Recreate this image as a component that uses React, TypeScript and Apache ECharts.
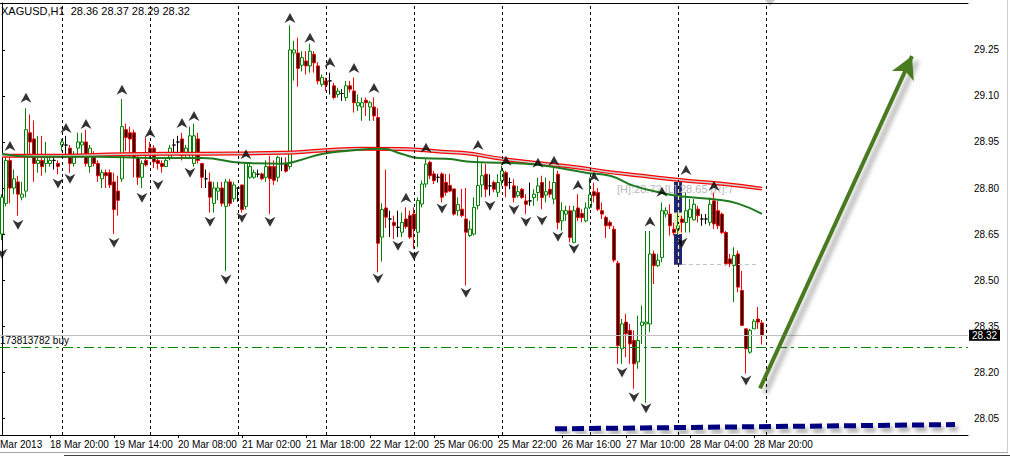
import React, { useEffect, useRef } from 'react';
import * as echarts from 'echarts';

// ---- Candle data (XAGUSD H1), index 0 = first visible bar ----
const opens = [
  28.65, 28.75, 28.89, 28.80, 28.82, 28.77, 28.79, 28.98, 28.96, 28.88,
  28.89, 28.88, 28.88, 28.89, 28.88, 28.94, 28.94, 28.93, 28.88, 28.93,
  28.94, 28.95, 28.87, 28.91, 28.88, 28.83, 28.85, 28.85, 28.82, 28.79,
  28.83, 28.99, 28.98, 28.98, 28.90, 28.835, 28.89, 28.93, 28.93, 28.89,
  28.88, 28.87, 28.90, 28.94, 28.95, 28.96, 28.91, 28.91, 28.88, 28.96,
  28.88, 28.83, 28.82, 28.75, 28.79, 28.80, 28.74, 28.82, 28.765, 28.80,
  28.81, 28.74, 28.835, 28.835, 28.845, 28.846, 28.835, 28.87, 28.87, 28.835,
  28.88, 28.88, 28.87, 29.24, 29.24, 29.20, 29.214, 29.198, 29.236, 29.198,
  29.138, 29.149, 29.149, 29.133, 29.105, 29.108, 29.095, 29.133, 29.116, 29.068,
  29.064, 29.086, 29.064, 29.064, 29.03, 28.64, 28.735, 28.699, 28.688, 28.672,
  28.656, 28.699, 28.71, 28.715, 28.656, 28.748, 28.813, 28.884, 28.846, 28.835,
  28.846, 28.818, 28.808, 28.797, 28.726, 28.731, 28.699, 28.645, 28.65, 28.743,
  28.81, 28.845, 28.807, 28.818, 28.786, 28.823, 28.85, 28.818, 28.807, 28.775,
  28.796, 28.758, 28.758, 28.769, 28.785, 28.818, 28.777, 28.796, 28.764, 28.845,
  28.693, 28.715, 28.726, 28.623, 28.735, 28.717, 28.693, 28.737, 28.788, 28.785,
  28.726, 28.704, 28.688, 28.666, 28.555, 28.276, 28.363, 28.336, 28.303, 28.233,
  28.352, 28.357, 28.357, 28.585, 28.547, 28.574, 28.715, 28.715, 28.666, 28.666,
  28.699, 28.688, 28.704, 28.696, 28.731, 28.699, 28.699, 28.688, 28.758, 28.726,
  28.715, 28.655, 28.569, 28.547, 28.585, 28.466, 28.341, 28.265, 28.341, 28.373,
  28.36,
];
const highs = [
  28.78, 28.91, 28.90, 28.86, 28.84, 28.82, 29.06, 29.04, 29.02, 28.97,
  28.97, 28.95, 28.91, 28.91, 28.89, 28.96, 28.97, 28.94, 28.92, 28.98,
  28.98, 28.99, 28.94, 28.92, 28.89, 28.86, 28.86, 28.86, 28.85, 28.84,
  29.09, 29.01, 29.00, 28.99, 28.91, 28.89, 28.965, 28.95, 28.94, 28.90,
  28.89, 28.90, 28.94, 28.96, 28.97, 28.98, 28.94, 29.00, 29.01, 28.98,
  28.88, 28.86, 28.85, 28.82, 28.82, 28.82, 28.83, 28.83, 28.82, 28.80,
  28.81, 28.885, 28.88, 28.86, 28.86, 28.85, 28.89, 28.905, 28.89, 28.905,
  28.90, 28.90, 29.33, 29.28, 29.29, 29.246, 29.246, 29.27, 29.246, 29.21,
  29.17, 29.16, 29.176, 29.143, 29.127, 29.122, 29.149, 29.149, 29.16, 29.105,
  29.095, 29.095, 29.084, 29.095, 29.06, 28.75, 28.86, 28.726, 28.71, 28.726,
  28.72, 28.737, 28.726, 28.737, 28.77, 28.824, 28.894, 28.889, 28.856, 28.846,
  28.851, 28.846, 28.846, 28.797, 28.77, 28.797, 28.80, 28.694, 28.77, 28.91,
  28.88, 28.878, 28.845, 28.824, 28.845, 28.872, 28.856, 28.834, 28.829, 28.807,
  28.80, 28.78, 28.818, 28.796, 28.834, 28.84, 28.834, 28.823, 28.865, 28.856,
  28.753, 28.742, 28.742, 28.742, 28.78, 28.731, 28.753, 28.834, 28.818, 28.80,
  28.753, 28.71, 28.694, 28.677, 28.563, 28.373, 28.39, 28.357, 28.336, 28.384,
  28.417, 28.66, 28.66, 28.596, 28.585, 28.753, 28.737, 28.747, 28.688, 28.72,
  28.71, 28.785, 28.764, 28.764, 28.742, 28.715, 28.715, 28.769, 28.785, 28.758,
  28.72, 28.66, 28.585, 28.607, 28.596, 28.53, 28.341, 28.341, 28.373, 28.412,
  28.37,
];
const lows = [
  28.63, 28.74, 28.75, 28.78, 28.71, 28.76, 28.77, 28.90, 28.82, 28.85,
  28.84, 28.85, 28.87, 28.86, 28.845, 28.92, 28.91, 28.85, 28.87, 28.90,
  28.91, 28.87, 28.85, 28.87, 28.82, 28.80, 28.80, 28.80, 28.65, 28.71,
  28.82, 28.92, 28.90, 28.835, 28.81, 28.80, 28.87, 28.90, 28.865, 28.86,
  28.85, 28.87, 28.89, 28.91, 28.91, 28.89, 28.90, 28.90, 28.87, 28.88,
  28.80, 28.80, 28.72, 28.72, 28.76, 28.74, 28.53, 28.74, 28.755, 28.755,
  28.72, 28.73, 28.83, 28.83, 28.835, 28.825, 28.82, 28.715, 28.81, 28.82,
  28.855, 28.85, 28.86, 29.15, 29.13, 29.18, 29.17, 29.176, 29.176, 29.138,
  29.13, 29.116, 29.105, 29.089, 29.095, 29.084, 29.084, 29.111, 29.046, 29.051,
  29.019, 29.035, 29.019, 29.019, 28.525, 28.56, 28.67, 28.64, 28.634, 28.64,
  28.64, 28.667, 28.634, 28.602, 28.607, 28.737, 28.802, 28.829, 28.813, 28.818,
  28.753, 28.775, 28.786, 28.71, 28.71, 28.705, 28.482, 28.64, 28.645, 28.73,
  28.77, 28.77, 28.775, 28.786, 28.77, 28.807, 28.77, 28.796, 28.753, 28.769,
  28.764, 28.715, 28.742, 28.742, 28.758, 28.731, 28.753, 28.769, 28.747, 28.666,
  28.661, 28.693, 28.623, 28.62, 28.693, 28.688, 28.688, 28.731, 28.753, 28.725,
  28.699, 28.637, 28.666, 28.558, 28.227, 28.227, 28.249, 28.227, 28.146, 28.211,
  28.292, 28.10, 28.33, 28.487, 28.542, 28.558, 28.704, 28.645, 28.645, 28.65,
  28.655, 28.655, 28.655, 28.694, 28.688, 28.677, 28.682, 28.677, 28.666, 28.666,
  28.65, 28.547, 28.542, 28.428, 28.46, 28.352, 28.195, 28.26, 28.341, 28.341,
  28.29,
];
const closes = [
  28.77, 28.89, 28.80, 28.83, 28.78, 28.78, 28.99, 28.95, 28.88, 28.89,
  28.87, 28.90, 28.89, 28.89, 28.87, 28.95, 28.94, 28.88, 28.90, 28.95,
  28.95, 28.88, 28.93, 28.88, 28.84, 28.85, 28.84, 28.81, 28.73, 28.76,
  29.00, 28.965, 28.96, 28.90, 28.835, 28.88, 28.875, 28.91, 28.885, 28.88,
  28.87, 28.89, 28.93, 28.94, 28.95, 28.905, 28.93, 28.97, 28.97, 28.89,
  28.835, 28.83, 28.77, 28.80, 28.80, 28.75, 28.82, 28.75, 28.81, 28.80,
  28.73, 28.88, 28.87, 28.85, 28.845, 28.83, 28.87, 28.83, 28.825, 28.90,
  28.88, 28.855, 29.25, 29.25, 29.19, 29.225, 29.198, 29.246, 29.208, 29.149,
  29.16, 29.136, 29.149, 29.095, 29.116, 29.108, 29.133, 29.122, 29.078, 29.078,
  29.078, 29.078, 29.078, 29.035, 28.62, 28.73, 28.705, 28.699, 28.678, 28.672,
  28.688, 28.674, 28.64, 28.667, 28.759, 28.813, 28.878, 28.84, 28.824, 28.835,
  28.77, 28.786, 28.79, 28.715, 28.746, 28.71, 28.656, 28.666, 28.737, 28.808,
  28.84, 28.796, 28.807, 28.796, 28.818, 28.856, 28.807, 28.818, 28.769, 28.788,
  28.769, 28.747, 28.758, 28.78, 28.807, 28.769, 28.788, 28.78, 28.818, 28.688,
  28.726, 28.726, 28.639, 28.726, 28.704, 28.704, 28.735, 28.778, 28.775, 28.731,
  28.715, 28.677, 28.677, 28.565, 28.287, 28.357, 28.325, 28.292, 28.227, 28.303,
  28.363, 28.363, 28.585, 28.547, 28.565, 28.726, 28.726, 28.677, 28.655, 28.677,
  28.688, 28.726, 28.731, 28.747, 28.71, 28.699, 28.699, 28.747, 28.683, 28.677,
  28.655, 28.553, 28.553, 28.58, 28.477, 28.352, 28.276, 28.336, 28.366, 28.363,
  28.32,
];

// ---- Axis content ----
const slotCount = 242;
const timeTickIndex = [12, 28, 44, 60, 76, 92, 108, 124, 140, 156, 172, 188];
const timeTickText = [
  '18 Mar 20:00', '19 Mar 14:00', '20 Mar 08:00', '21 Mar 02:00', '21 Mar 18:00', '22 Mar 12:00',
  '25 Mar 06:00', '25 Mar 22:00', '26 Mar 16:00', '27 Mar 10:00', '28 Mar 04:00', '28 Mar 20:00',
];
const priceTicks = [28.05, 28.2, 28.35, 28.5, 28.65, 28.8, 28.95, 29.1, 29.25];
const daySeparators = [15, 37, 59, 81, 103, 125, 147, 169, 191];

// ---- Indicators ----
const redMA = [
  [0, 28.905], [15, 28.905], [30, 28.91], [50, 28.912], [70, 28.915], [80, 28.922], [90, 28.928],
  [100, 28.927], [110, 28.918], [115, 28.915], [125, 28.895], [135, 28.88], [145, 28.865],
  [150, 28.855], [160, 28.84], [170, 28.825], [180, 28.814], [190, 28.798],
];
const greenMA = [
  [0, 28.911], [8, 28.902], [24, 28.902], [37, 28.898], [50, 28.898], [60, 28.882], [70, 28.879],
  [74, 28.889], [80, 28.911], [86, 28.921], [95, 28.928], [100, 28.911], [104, 28.898],
  [111, 28.895], [118, 28.885], [131, 28.879], [139, 28.866], [146, 28.85], [152, 28.84],
  [158, 28.807], [166, 28.781], [170, 28.772], [179, 28.762], [184, 28.749], [190, 28.716],
];
const upFractals = [
  [2, 28.937], [6, 29.094], [16, 28.996], [21, 29.009], [30, 29.12], [37, 28.98], [45, 29.012],
  [48, 29.035], [61, 28.91], [72, 29.354], [77, 29.29], [82, 29.21], [88, 29.191], [93, 29.126],
  [101, 28.768], [106, 28.931], [119, 28.94], [126, 28.889], [134, 28.882], [138, 28.889],
  [144, 28.81], [148, 28.837], [162, 28.691], [165, 28.788], [171, 28.859], [178, 28.807],
];
const downFractals = [
  [0, 28.586], [4, 28.68], [14, 28.815], [17, 28.83], [28, 28.622], [35, 28.768], [39, 28.81],
  [47, 28.85], [52, 28.69], [56, 28.502], [60, 28.703], [67, 28.69], [94, 28.505], [99, 28.612],
  [103, 28.58], [110, 28.733], [116, 28.459], [122, 28.742], [128, 28.729], [131, 28.69],
  [135, 28.694], [139, 28.641], [143, 28.602], [155, 28.199], [158, 28.118], [161, 28.082],
  [170, 28.622], [186, 28.173],
];
const currentPrice = 28.32;
const buyPrice = 28.277;
const buyLabel = '173813782 buy';
const rangeBox = { from: 168, to: 170, top: 28.82, bottom: 28.55, hi: 28.72, lo: 28.65, mid: 169 };
const rangeLineEnd = 189;
const trendLine = [[138.25, 28.015], [238.25, 28.029]];
const arrowLine = [[189.5, 28.147], [227.5, 29.23]];
const header = 'XAGUSD,H1  28.36 28.37 28.29 28.32';
const rangeText = '[H]:28.72 [L]:28.65 [R]:7';

const FONT = 'Liberation Sans, Arial, sans-serif';

export default function App() {
  const ref = useRef<HTMLDivElement>(null);
  useEffect(() => {
    if (!ref.current) return;
    const chart = echarts.init(ref.current, null, { renderer: 'svg' });
    const categories = Array.from({ length: slotCount }, (_, i) => String(i));
    const labelMap: Record<number, string> = {};
    timeTickIndex.forEach((idx, k) => { labelMap[idx] = timeTickText[k]; });
    const showTick = (i: number) => labelMap[i] !== undefined;
    const candleData = opens.map((o, i) => [o, closes[i], lows[i], highs[i]]);

    const option: any = {
      animation: false,
      backgroundColor: '#ffffff',
      grid: { left: 0, right: 42, top: 3, bottom: 21, containLabel: false },
      xAxis: [
        {
          type: 'category',
          data: categories,
          boundaryGap: true,
          axisLine: { show: true, lineStyle: { color: '#000', width: 1 } },
          axisTick: { show: true, alignWithLabel: true, interval: (i: number) => showTick(i), length: 3, lineStyle: { color: '#000' } },
          axisLabel: {
            show: true,
            interval: (i: number) => showTick(i),
            formatter: (_v: string, i: number) => labelMap[i] || '',
            align: 'left',
            margin: 4,
            fontSize: 10,
            fontFamily: FONT,
            color: '#000',
          },
          splitLine: { show: false },
        },
        {
          type: 'value',
          min: -0.5,
          max: slotCount - 0.5,
          position: 'top',
          axisLine: { show: true, onZero: false, lineStyle: { color: '#000', width: 1 } },
          axisTick: { show: false },
          axisLabel: { show: false },
          splitLine: { show: false },
        },
      ],
      yAxis: {
        type: 'value',
        position: 'right',
        min: 27.995,
        max: 29.403,
        scale: true,
        axisLine: { show: true, lineStyle: { color: '#000', width: 1 } },
        axisTick: { show: true, length: 3, customValues: priceTicks, lineStyle: { color: '#000' } },
        axisLabel: {
          show: true,
          customValues: priceTicks,
          formatter: (v: number) => v.toFixed(2),
          margin: 6,
          fontSize: 10,
          fontFamily: FONT,
          color: '#000',
        },
        splitLine: { show: false },
      },
      graphic: [
        { type: 'text', left: 1, top: 5, style: { text: header, font: `11px ${FONT}`, fill: '#000' } },
        { type: 'text', left: 0, top: 439, style: { text: 'Mar 2013', font: `10px ${FONT}`, fill: '#000' } },
        { type: 'text', left: 617, top: 183, z: 2, style: { text: rangeText, font: `11px ${FONT}`, fill: '#b8b8b8' } },
        { type: 'polygon', shape: { points: [[765, 0], [775, 0], [770, 6]] }, style: { fill: '#c8c8c8' } },
        { type: 'line', shape: { x1: 0, y1: 452.5, x2: 1008, y2: 452.5 }, style: { stroke: '#a8a8a8', lineWidth: 1 } },
        { type: 'line', shape: { x1: 64, y1: 455.5, x2: 1010, y2: 455.5 }, style: { stroke: '#404040', lineWidth: 1 } },
        { type: 'line', shape: { x1: 1007.5, y1: 0, x2: 1007.5, y2: 452 }, style: { stroke: '#d0d0d0', lineWidth: 1 } },
      ],
      series: [
        {
          name: 'annotations',
          type: 'line',
          data: [],
          z: 1,
          silent: true,
          markArea: {
            silent: true,
            data: [
              [
                { xAxis: rangeBox.from, yAxis: rangeBox.top, itemStyle: { color: '#1e2478' } },
                { xAxis: rangeBox.to, yAxis: rangeBox.bottom },
              ],
              [
                { xAxis: rangeBox.from, yAxis: rangeBox.hi, itemStyle: { color: '#eeeec8' } },
                { xAxis: rangeBox.to, yAxis: rangeBox.lo },
              ],
            ],
          },
          markLine: {
            silent: true,
            symbol: ['none', 'none'],
            label: { show: false },
            data: [
              ...daySeparators.map((d) => ({ xAxis: d, lineStyle: { color: '#000', width: 1, type: [3, 3] } })),
              [
                { coord: [rangeBox.to, rangeBox.bottom], lineStyle: { color: '#c4c4c4', width: 1, type: [4, 3] } },
                { coord: [rangeLineEnd, rangeBox.bottom] },
              ],
            ],
          },
        },
        {
          name: 'rangeMid',
          type: 'line',
          data: [],
          z: 4,
          silent: true,
          markLine: {
            silent: true,
            symbol: ['none', 'none'],
            label: { show: false },
            data: [
              [
                { coord: [rangeBox.mid, rangeBox.top], lineStyle: { color: '#f0e870', width: 1.2, type: [4, 3] } },
                { coord: [rangeBox.mid, rangeBox.bottom] },
              ],
            ],
          },
        },
        {
          name: 'buyOrder',
          type: 'line',
          data: [],
          z: 2,
          silent: true,
          markLine: {
            silent: true,
            symbol: ['none', 'none'],
            lineStyle: { color: '#008800', width: 1, type: [10, 4, 3, 4], opacity: 1 },
            label: {
              show: true,
              position: 'insideStartTop',
              distance: [0, 2],
              formatter: buyLabel,
              color: '#000',
              fontSize: 10,
              fontFamily: FONT,
            },
            data: [{ yAxis: buyPrice }],
          },
        },
        {
          name: 'XAGUSD',
          type: 'candlestick',
          data: candleData,
          barWidth: 3,
          z: 3,
          itemStyle: {
            color: '#ffffff',
            color0: '#000000',
            borderColor: '#008000',
            borderColor0: '#ff0000',
            borderColorDoji: '#000000',
            borderWidth: 1,
          },
          markLine: {
            silent: true,
            symbol: ['none', 'none'],
            data: [
              {
                yAxis: currentPrice,
                lineStyle: { color: '#c0c0c0', width: 1, type: 'solid' },
                label: {
                  show: true,
                  position: 'end',
                  distance: 1,
                  formatter: currentPrice.toFixed(2),
                  backgroundColor: '#000',
                  color: '#fff',
                  padding: [1, 3, 0, 3],
                  fontSize: 10,
                  fontFamily: FONT,
                },
              },
            ],
          },
        },
        {
          name: 'MA slow outer',
          type: 'line',
          data: redMA,
          showSymbol: false,
          smooth: true,
          z: 4,
          lineStyle: { color: '#ff0000', width: 4 },
        },
        {
          name: 'MA slow inner',
          type: 'line',
          data: redMA,
          showSymbol: false,
          smooth: true,
          z: 4,
          lineStyle: { color: '#cfcfcf', width: 1.5 },
        },
        {
          name: 'MA fast',
          type: 'line',
          data: greenMA,
          showSymbol: false,
          smooth: true,
          z: 4,
          lineStyle: { color: '#1f7a1f', width: 2 },
        },
        {
          name: 'Fractal up',
          type: 'scatter',
          data: upFractals,
          symbol: 'path://M5,0 L10,10 L5,7 L0,10 Z',
          symbolSize: [11, 10],
          z: 5,
          itemStyle: { color: '#000' },
        },
        {
          name: 'Fractal down',
          type: 'scatter',
          data: downFractals,
          symbol: 'path://M0,0 L5,3 L10,0 L5,10 Z',
          symbolSize: [11, 10],
          z: 5,
          itemStyle: { color: '#000' },
        },
        {
          name: 'Trendline',
          type: 'line',
          xAxisIndex: 1,
          data: trendLine,
          showSymbol: false,
          z: 5,
          lineStyle: {
            color: '#000080',
            width: 5,
            type: [12, 5],
            shadowColor: 'rgba(0,0,0,0.35)',
            shadowBlur: 4,
            shadowOffsetX: 3,
            shadowOffsetY: 4,
          },
        },
        {
          name: 'Arrow',
          type: 'line',
          xAxisIndex: 1,
          data: [],
          z: 6,
          markLine: {
            silent: true,
            symbol: ['none', 'arrow'],
            symbolSize: [18, 22],
            label: { show: false },
            lineStyle: {
              color: '#4a7a22',
              width: 4,
              type: 'solid',
              shadowColor: 'rgba(0,0,0,0.35)',
              shadowBlur: 5,
              shadowOffsetX: 5,
              shadowOffsetY: 5,
            },
            data: [[{ coord: arrowLine[0] }, { coord: arrowLine[1] }]],
          },
        },
      ],
    };
    chart.setOption(option);
    return () => chart.dispose();
  }, []);
  return (
    <div
      ref={ref}
      style={{ position: 'absolute', left: 0, top: 0, width: 1010, height: 456, background: '#fff' }}
    />
  );
}
